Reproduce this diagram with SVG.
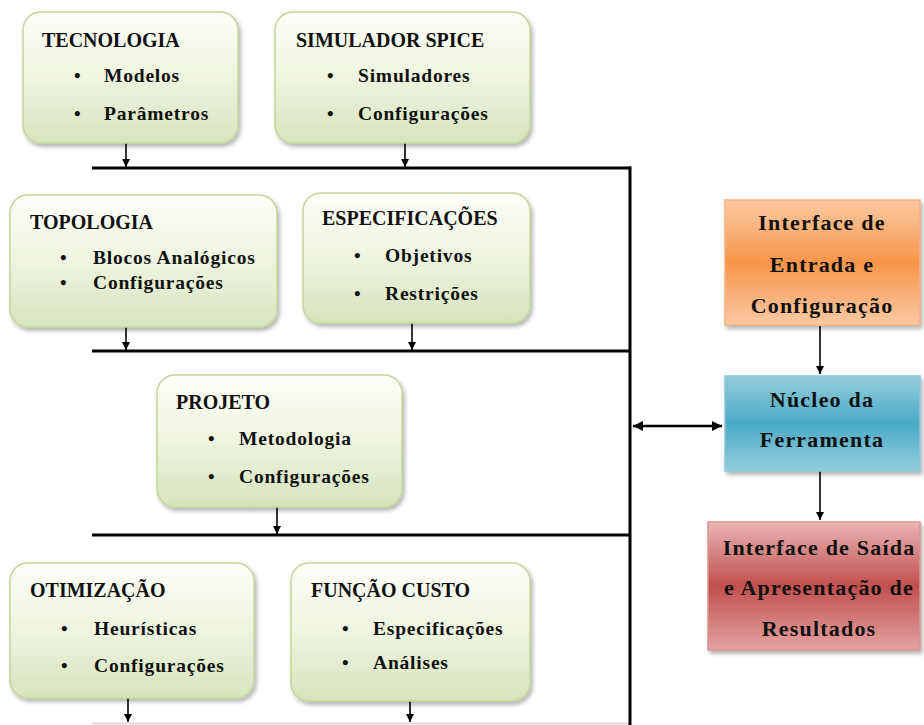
<svg xmlns="http://www.w3.org/2000/svg" width="924" height="725" viewBox="0 0 924 725">
<defs>
<linearGradient id="gGreen" x1="0" y1="0" x2="0" y2="1">
<stop offset="0" stop-color="#fdfef9"/>
<stop offset="0.5" stop-color="#eef4e0"/>
<stop offset="1" stop-color="#d6e4bb"/>
</linearGradient>
<linearGradient id="gOrange" x1="0" y1="0" x2="0" y2="1">
<stop offset="0" stop-color="#fbc9a3"/>
<stop offset="0.5" stop-color="#f7954a"/>
<stop offset="1" stop-color="#fbc9a3"/>
</linearGradient>
<linearGradient id="gBlue" x1="0" y1="0" x2="0" y2="1">
<stop offset="0" stop-color="#93cddd"/>
<stop offset="0.5" stop-color="#4aaac5"/>
<stop offset="1" stop-color="#93cddd"/>
</linearGradient>
<linearGradient id="gRed" x1="0" y1="0" x2="0" y2="1">
<stop offset="0" stop-color="#e8b5b4"/>
<stop offset="0.5" stop-color="#c0504d"/>
<stop offset="1" stop-color="#e3a3a1"/>
</linearGradient>
<filter id="sh" x="-10%" y="-10%" width="125%" height="130%">
<feDropShadow dx="2" dy="3" stdDeviation="2" flood-color="#000" flood-opacity="0.3"/>
</filter>
<marker id="ah" viewBox="0 0 10 10" refX="10" refY="5" markerWidth="8" markerHeight="8" markerUnits="userSpaceOnUse" orient="auto-start-reverse">
<path d="M0,0 L10,5 L0,10 z" fill="#000"/>
</marker>
<marker id="ah2" viewBox="0 0 10 10" refX="10" refY="5" markerWidth="10" markerHeight="10" markerUnits="userSpaceOnUse" orient="auto-start-reverse">
<path d="M0,0 L10,5 L0,10 z" fill="#000"/>
</marker>
</defs>
<style>
.gb{fill:url(#gGreen);stroke:#c3d69b;stroke-width:1.5;filter:url(#sh)}
text{font-family:"Liberation Serif","Times New Roman",serif;font-weight:bold;fill:#111}
.t{font-size:20px}
.i{font-size:19.5px;letter-spacing:0.8px}
.b{font-size:19px}
.r{font-size:22px;letter-spacing:1.2px;text-anchor:middle}
.bus{stroke:#000;stroke-width:3;fill:none}
.arr{stroke:#000;stroke-width:1.6;fill:none;marker-end:url(#ah)}
</style>

<g id="connectors">
<line class="bus" x1="92" y1="168" x2="631" y2="168"/>
<line class="bus" x1="92" y1="351" x2="631" y2="351"/>
<line class="bus" x1="92" y1="535" x2="631" y2="535"/>
<line x1="92" y1="723.5" x2="630" y2="723.5" stroke="#dcdcdc" stroke-width="2"/>
<line class="bus" x1="630" y1="166.5" x2="630" y2="725"/>
<line class="arr" x1="126" y1="143" x2="126" y2="167"/>
<line class="arr" x1="405" y1="143" x2="405" y2="167"/>
<line class="arr" x1="126" y1="327" x2="126" y2="350"/>
<line class="arr" x1="412" y1="323" x2="412" y2="350"/>
<line class="arr" x1="277" y1="507" x2="277" y2="534"/>
<line class="arr" x1="128" y1="698" x2="128" y2="722"/>
<line class="arr" x1="410" y1="701" x2="410" y2="722"/>
<line x1="633" y1="426" x2="722" y2="426" stroke="#000" stroke-width="2.5" marker-start="url(#ah2)" marker-end="url(#ah2)"/>
<line class="arr" x1="820" y1="326" x2="820" y2="374"/>
<line class="arr" x1="820" y1="471" x2="820" y2="520"/>
</g>

<g id="tecnologia">
<rect class="gb" x="23" y="12" width="215" height="131" rx="18"/>
<text class="t" x="42" y="47">TECNOLOGIA</text>
<text class="b" x="74" y="82">•</text><text class="i" x="104" y="82">Modelos</text>
<text class="b" x="74" y="120">•</text><text class="i" x="104" y="120">Parâmetros</text>
</g>

<g id="simulador">
<rect class="gb" x="275" y="12" width="255" height="131" rx="18"/>
<text class="t" x="296" y="47">SIMULADOR SPICE</text>
<text class="b" x="327" y="82">•</text><text class="i" x="358" y="82">Simuladores</text>
<text class="b" x="327" y="120">•</text><text class="i" x="358" y="120">Configurações</text>
</g>

<g id="topologia">
<rect class="gb" x="10" y="195" width="267" height="132" rx="18"/>
<text class="t" x="30" y="229">TOPOLOGIA</text>
<text class="b" x="60" y="264">•</text><text class="i" x="93" y="264">Blocos Analógicos</text>
<text class="b" x="60" y="289">•</text><text class="i" x="93" y="289">Configurações</text>
</g>

<g id="especificacoes">
<rect class="gb" x="303" y="193" width="227" height="130" rx="18"/>
<text class="t" x="322" y="225">ESPECIFICAÇÕES</text>
<text class="b" x="354" y="262">•</text><text class="i" x="385" y="262">Objetivos</text>
<text class="b" x="354" y="300">•</text><text class="i" x="385" y="300">Restrições</text>
</g>

<g id="projeto">
<rect class="gb" x="157" y="375" width="245" height="132" rx="18"/>
<text class="t" x="176" y="409">PROJETO</text>
<text class="b" x="208" y="445">•</text><text class="i" x="239" y="445">Metodologia</text>
<text class="b" x="208" y="483">•</text><text class="i" x="239" y="483">Configurações</text>
</g>

<g id="otimizacao">
<rect class="gb" x="10" y="563" width="244" height="135" rx="18"/>
<text class="t" x="30" y="597">OTIMIZAÇÃO</text>
<text class="b" x="61" y="635">•</text><text class="i" x="94" y="635">Heurísticas</text>
<text class="b" x="61" y="672">•</text><text class="i" x="94" y="672">Configurações</text>
</g>

<g id="funcao-custo">
<rect class="gb" x="291" y="563" width="239" height="138" rx="18"/>
<text class="t" x="311" y="597">FUNÇÃO CUSTO</text>
<text class="b" x="342" y="635">•</text><text class="i" x="373" y="635">Especificações</text>
<text class="b" x="342" y="669">•</text><text class="i" x="373" y="669">Análises</text>
</g>

<g id="interface-entrada">
<rect x="725" y="200" width="195" height="125" fill="url(#gOrange)" stroke="#f4b183" stroke-width="1.5" filter="url(#sh)"/>
<text class="r" x="822" y="230">Interface de</text>
<text class="r" x="822" y="272">Entrada e</text>
<text class="r" x="822" y="313">Configuração</text>
</g>

<g id="nucleo">
<rect x="725" y="376" width="195" height="95" fill="url(#gBlue)" stroke="#8ec5d6" stroke-width="1.5" filter="url(#sh)"/>
<text class="r" x="822" y="407">Núcleo da</text>
<text class="r" x="822" y="447">Ferramenta</text>
</g>

<g id="interface-saida">
<rect x="708" y="522" width="212" height="128" fill="url(#gRed)" stroke="#d99594" stroke-width="1.5" filter="url(#sh)"/>
<text class="r" x="819" y="555">Interface de Saída</text>
<text class="r" x="819" y="595">e Apresentação de</text>
<text class="r" x="819" y="636">Resultados</text>
</g>
</svg>
